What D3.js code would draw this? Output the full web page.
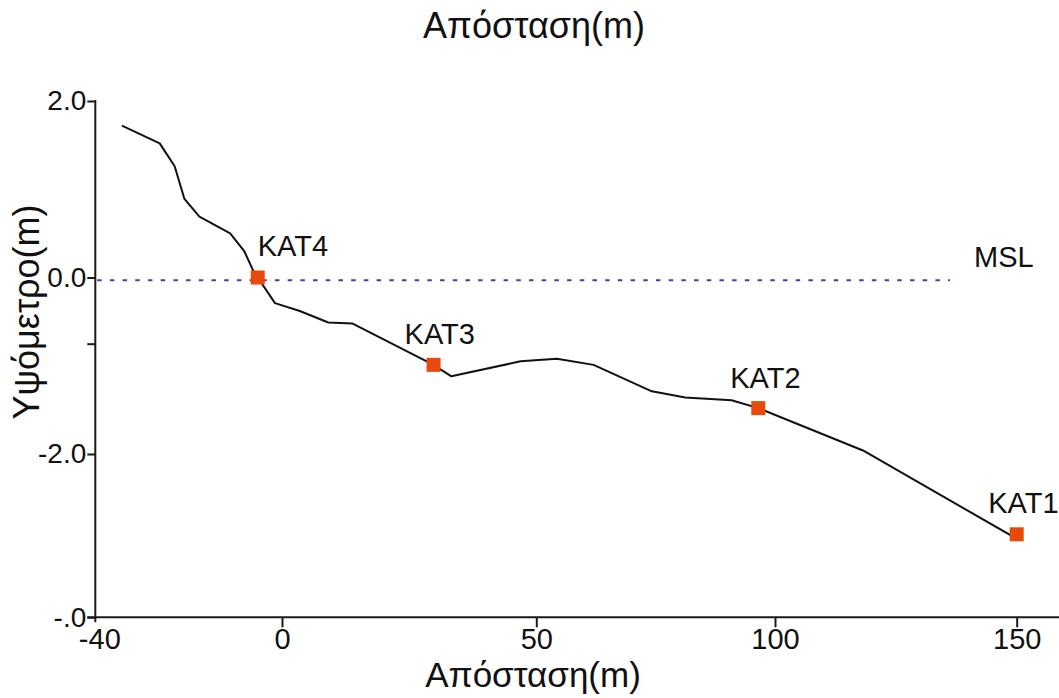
<!DOCTYPE html>
<html>
<head>
<meta charset="utf-8">
<script src="https://cdn.jsdelivr.net/npm/d3@7"></script>
<style>
  html, body { margin: 0; padding: 0; background: #fff; }
  svg { display: block; font-family: "Liberation Sans", Arial, sans-serif; }
</style>
</head>
<body>
<svg id="chart" width="1059" height="698"></svg>
<script>
// Ground profile: distance (m) and elevation (m)
const profileDist = [-34.3, -26.2, -23.0, -20.9, -17.7, -11.1, -8.1, -6.1, -5.2, -1.5, 3.5, 9.1, 13.8,
                     29.8, 33.3, 46.9, 54.3, 62.0, 74.2, 81.2, 90.9, 96.5, 118.2, 150.3];
const profileElev = [1.72, 1.52, 1.26, 0.89, 0.69, 0.50, 0.30, 0.07, 0.0, -0.29, -0.38, -0.51, -0.52,
                     -0.99, -1.12, -0.95, -0.92, -0.99, -1.29, -1.36, -1.39, -1.48, -1.96, -2.97];

// Survey stations
const stationNames = ["KAT4", "KAT3", "KAT2", "KAT1"];
const stationDist  = [-5.2, 29.8, 96.5, 150];
const stationElev  = [0.0, -0.99, -1.48, -2.91];

// Mean sea level reference
const mslLevel = -0.03;
const mslFrom = -39.6;
const mslTo = 136.2;

// Axis ticks
const xTickValues = [-40, 0, 50, 100, 150];
const xTickLabels = ["-40", "0", "50", "100", "150"];
const yTickValues = [2, 0, -0.75, -2, -3.85];
const yTickLabels = ["2.0", "0.0", "", "-2.0", "-.0"];

const xTitle = "Απόσταση(m)";
const yTitle = "Υψόμετρο(m)";

// ---- layout ----
const svg = d3.select("#chart");
const W = 1059;

// distance axis is drawn with uneven spacing between its labelled ticks
const x = d3.scaleLinear()
  .domain(xTickValues)
  .range([95.3, 282, 536.3, 775, 1016.7]);
const y = d3.scaleLinear().domain([2, -2]).range([101, 454]);

const axisColor = "#1a1a1a";
const axisY0 = y(-3.85);

// station label placement (px offsets from marker centre, text start / baseline)
const labelOffsets = [[0, -21.5], [-29, -21], [-28, -20], [-28.5, -21]];

// Y axis
const yAxis = d3.axisLeft(y)
  .tickValues(yTickValues)
  .tickFormat((d, i) => yTickLabels[i])
  .tickSize(8)
  .tickPadding(1)
  .tickSizeOuter(0);
const gy = svg.append("g").attr("transform", `translate(${x(-40)},0)`).call(yAxis);
gy.select(".domain").remove();
gy.selectAll(".tick line").attr("stroke", axisColor).attr("stroke-width", 2);
gy.selectAll(".tick text")
  .attr("fill", "#111")
  .style("font-size", "28px")
  .style("font-family", "Liberation Sans, Arial, sans-serif");
svg.append("line")
  .attr("x1", x(-40)).attr("x2", x(-40))
  .attr("y1", y(2) - 1).attr("y2", axisY0 + 5)
  .attr("stroke", axisColor).attr("stroke-width", 2);

// X axis
const xAxis = d3.axisBottom(x)
  .tickValues(xTickValues)
  .tickFormat((d, i) => xTickLabels[i])
  .tickSize(10)
  .tickPadding(1)
  .tickSizeOuter(0);
const gx = svg.append("g").attr("transform", `translate(0,${axisY0})`).call(xAxis);
gx.select(".domain").remove();
gx.selectAll(".tick line").attr("stroke", axisColor).attr("stroke-width", 2);
gx.selectAll(".tick").filter(d => d === -40).select("line").remove();
gx.selectAll(".tick text")
  .attr("fill", "#111")
  .style("font-size", "29px")
  .style("font-family", "Liberation Sans, Arial, sans-serif");
gx.selectAll(".tick").filter(d => d === -40).select("text").attr("dx", 4);
svg.append("line")
  .attr("x1", x(-40) - 8).attr("x2", W)
  .attr("y1", axisY0).attr("y2", axisY0)
  .attr("stroke", axisColor).attr("stroke-width", 2);

// Titles
svg.append("text")
  .attr("x", 534).attr("y", 38)
  .attr("text-anchor", "middle")
  .attr("fill", "#111")
  .style("font-size", "36px")
  .text(xTitle);
svg.append("text")
  .attr("x", 533).attr("y", 687)
  .attr("text-anchor", "middle")
  .attr("fill", "#111")
  .style("font-size", "35px")
  .text(xTitle);
svg.append("text")
  .attr("transform", "translate(39,312) rotate(-90)")
  .attr("text-anchor", "middle")
  .attr("fill", "#111")
  .style("font-size", "36px")
  .text(yTitle);

// MSL dashed line
svg.append("line")
  .attr("x1", x(mslFrom)).attr("x2", x(mslTo))
  .attr("y1", y(mslLevel)).attr("y2", y(mslLevel))
  .attr("stroke", "#4a3fa6")
  .attr("stroke-width", 2)
  .attr("stroke-dasharray", "4.5,8.2");
svg.append("text")
  .attr("x", 974).attr("y", 266.5)
  .attr("fill", "#111")
  .style("font-size", "29px")
  .text("MSL");

// Profile line
const profile = profileDist.map((d, i) => [d, profileElev[i]]);
svg.append("path")
  .datum(profile)
  .attr("fill", "none")
  .attr("stroke", "#111")
  .attr("stroke-width", 2)
  .attr("stroke-linejoin", "round")
  .attr("d", d3.line().x(d => x(d[0])).y(d => y(d[1])));

// Stations
const stations = stationNames.map((n, i) => ({ name: n, d: stationDist[i], e: stationElev[i], off: labelOffsets[i] }));
const mk = 14;
svg.selectAll("rect.station")
  .data(stations)
  .enter().append("rect")
  .attr("class", "station")
  .attr("x", s => x(s.d) - mk / 2)
  .attr("y", s => y(s.e) - mk / 2)
  .attr("width", mk).attr("height", mk)
  .attr("fill", "#e84a0e");
svg.selectAll("text.station")
  .data(stations)
  .enter().append("text")
  .attr("class", "station")
  .attr("x", s => x(s.d) + s.off[0])
  .attr("y", s => y(s.e) + s.off[1])
  .attr("fill", "#111")
  .style("font-size", "29px")
  .text(s => s.name);
</script>
</body>
</html>
